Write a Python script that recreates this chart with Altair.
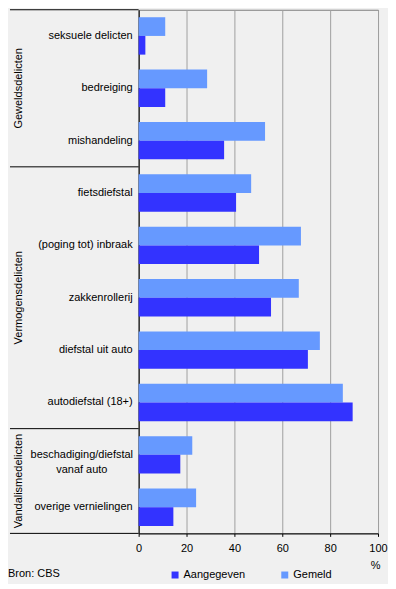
import altair as alt
import pandas as pd

categories = ["seksuele delicten", "bedreiging", "mishandeling", "fietsdiefstal",
              "(poging tot) inbraak", "zakkenrollerij", "diefstal uit auto",
              "autodiefstal (18+)", "beschadiging/diefstal vanaf auto", "overige vernielingen"]
display = ["seksuele delicten", "bedreiging", "mishandeling", "fietsdiefstal",
           "(poging tot) inbraak", "zakkenrollerij", "diefstal uit auto",
           "autodiefstal (18+)", "beschadiging/diefstal\nvanaf auto", "overige vernielingen"]
gemeld = [11.1, 28.6, 52.8, 47.0, 67.8, 66.9, 75.7, 85.3, 22.4, 24.0]
aangegeven = [2.8, 11.1, 35.7, 40.7, 50.3, 55.3, 70.7, 89.4, 17.4, 14.5]
groups = ["Geweldsdelicten", "Vermogensdelicten", "Vandalismedelicten"]
group_sizes = [3, 5, 2]
series = ["Aangegeven", "Gemeld"]
colors = ["#3333FF", "#6699FF"]
x_ticks = [0, 20, 40, 60, 80, 100]
source = "Bron: CBS"

FONT = "Liberation Sans"

df = pd.DataFrame({
    "cat": categories * 2,
    "series": ["Gemeld"] * len(categories) + ["Aangegeven"] * len(categories),
    "value": gemeld + aangegeven,
})
labels = pd.DataFrame({"cat": categories, "label": display})
labels["multi"] = labels["label"].str.contains("\n")

bounds = [0]
for s in group_sizes:
    bounds.append(bounds[-1] + s)
bounds_df = pd.DataFrame({"b": bounds})
groups_df = pd.DataFrame({
    "g": groups,
    "c": [(bounds[i] + bounds[i + 1]) / 2 for i in range(len(groups))],
})
n = len(categories)

band = alt.Scale(domain=categories, paddingInner=0.2857, paddingOuter=0.1428)
qy = alt.Scale(domain=[0, n], reverse=True, nice=False, zero=False)

bars = alt.Chart(df).mark_bar().encode(
    y=alt.Y("cat:N", sort=categories, scale=band,
            axis=alt.Axis(labels=False, ticks=False, title=None, grid=False,
                          domainColor="black", domainWidth=1)),
    yOffset=alt.YOffset("series:N", sort=["Gemeld", "Aangegeven"]),
    x=alt.X("value:Q", scale=alt.Scale(domain=[0, 100], nice=False),
            axis=alt.Axis(values=x_ticks, grid=True, gridColor="#A0A0A0",
                          domainColor="black", tickColor="black", tickSize=3,
                          labelFont=FONT, labelFontSize=11, labelColor="black",
                          labelPadding=6, labelFlush=False,
                          title="%", titleFont=FONT, titleFontSize=11,
                          titleFontWeight="normal", titleColor="black",
                          titleX=237, titleY=35, titleAlign="center",
                          titleBaseline="alphabetic")),
    color=alt.Color("series:N",
                    scale=alt.Scale(domain=series, range=colors),
                    legend=alt.Legend(orient="none", legendX=31, legendY=561,
                                      direction="horizontal", title=None,
                                      symbolType="square", symbolSize=49,
                                      symbolStrokeWidth=0, labelFont=FONT,
                                      labelFontSize=11, labelColor="black",
                                      columnPadding=34, labelOffset=3)),
)

single = alt.Chart(labels).transform_filter("!datum.multi").mark_text(
    align="right", baseline="middle", font=FONT, fontSize=11, color="black"
).encode(
    y=alt.Y("cat:N", sort=categories, scale=band, axis=None),
    x=alt.value(-6),
    text="label:N",
)

multi = alt.Chart(labels).transform_filter("datum.multi").mark_text(
    align="center", baseline="middle", font=FONT, fontSize=11, color="black",
    lineBreak="\n", lineHeight=15
).encode(
    y=alt.Y("cat:N", sort=categories, scale=band, axis=None),
    x=alt.value(-57),
    text="label:N",
)

rules = alt.Chart(bounds_df).mark_rule(color="black", strokeWidth=1).encode(
    y=alt.Y("b:Q", scale=qy, axis=None),
    x=alt.value(-129),
    x2=alt.value(0),
)

gtitles = alt.Chart(groups_df).mark_text(
    angle=270, align="center", baseline="middle", font=FONT, fontSize=11, color="black"
).encode(
    y=alt.Y("c:Q", scale=qy, axis=None),
    x=alt.value(-120),
    text="g:N",
)

src = alt.Chart(pd.DataFrame({"t": [source]})).mark_text(
    align="left", baseline="middle", font=FONT, fontSize=11, color="black"
).encode(
    x=alt.value(-131),
    y=alt.value(566),
    text="t:N",
)

chart = alt.layer(bars, single, multi, rules, gtitles, src).resolve_scale(
    y="independent"
).properties(
    width=240, height=525,
    autosize=alt.AutoSizeParams(type="none"),
    padding={"left": 131, "top": 1, "right": 10, "bottom": 50},
    background="#F0F0F0",
).configure_view(stroke="#808080", strokeWidth=1)

chart.save("out.html", embed_options={"renderer": "svg", "actions": False})
